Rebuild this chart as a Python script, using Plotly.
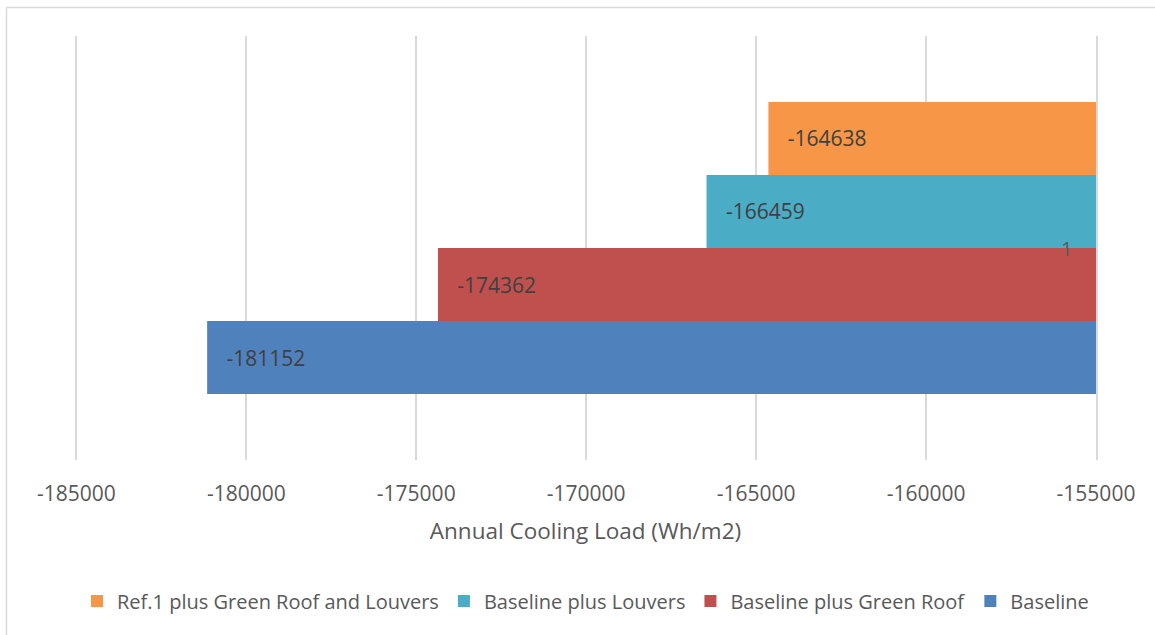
import plotly.graph_objects as go

# Annual cooling load per design option (Wh/m2)
category = ["1"]
series_names = ["Baseline", "Baseline plus Green Roof",
                "Baseline plus Louvers", "Ref.1 plus Green Roof and Louvers"]
series_values = [-181152, -174362, -166459, -164638]
series_colors = ["#4F81BD", "#C0504D", "#4BACC6", "#F79646"]

tick_values = [-185000, -180000, -175000, -170000, -165000, -160000, -155000]
tick_labels = [str(v) for v in tick_values]

FONT = "Open Sans"
NBSP = "\u00a0"
# small padding so the gridline at the left end of the axis stays visible
pad = 40

fig = go.Figure()
for name, val, col in zip(series_names, series_values, series_colors):
    fig.add_trace(go.Bar(
        y=category, x=[val], name=name, orientation="h",
        marker=dict(color=col, line=dict(width=0)),
        text=[NBSP * 3 + str(val)], textposition="inside",
        insidetextanchor="end",
        textfont=dict(family=FONT, size=21, color="#404040"),
    ))

# category label drawn just left of the right-hand category axis
n_cat = len(category)
for i, cat in enumerate(category):
    fig.add_annotation(
        x=1, xref="paper", y=(i + 0.5) / n_cat, yref="paper",
        xanchor="right", yanchor="middle",
        xshift=-22, showarrow=False, text=cat,
        font=dict(family=FONT, size=20, color="#595959"),
    )

grid = "#D9D9D9"
fig.update_layout(
    width=1155, height=635,
    margin=dict(l=75, r=59, t=36, b=175, autoexpand=False),
    paper_bgcolor="white", plot_bgcolor="white",
    barmode="group", bargap=0.311, bargroupgap=0,
    font=dict(family=FONT, color="#595959", size=21),
    xaxis=dict(
        range=[tick_values[0] - pad, tick_values[-1]],
        tickvals=tick_values, ticktext=tick_labels,
        showgrid=True, gridcolor=grid, gridwidth=1.5,
        zeroline=False, showline=False, ticks="",
        ticklabelstandoff=19,
        tickfont=dict(family=FONT, size=21, color="#595959"),
        title=dict(text="Annual Cooling Load (Wh/m2)", standoff=17,
                   font=dict(family=FONT, size=22.5, color="#595959")),
    ),
    yaxis=dict(
        type="category", side="right", range=[-0.5, n_cat - 0.5],
        showline=True, linecolor=grid, linewidth=1.5,
        ticks="inside", ticklen=7, tickcolor=grid, tickwidth=1.5,
        tickson="boundaries", showticklabels=False, showgrid=False,
    ),
    legend=dict(
        orientation="h", traceorder="reversed",
        x=0.5, xanchor="center", y=-0.3325, yanchor="middle",
        font=dict(family=FONT, size=20, color="#595959"),
    ),
    showlegend=True,
    shapes=[
        # chart frame (top and left edges)
        dict(type="line", xref="paper", yref="paper",
             x0=-0.0671, x1=1.06, y0=1.0672, y1=1.0672,
             line=dict(color=grid, width=1.5)),
        dict(type="line", xref="paper", yref="paper",
             x0=-0.0671, x1=-0.0671, y0=1.0672, y1=-0.42,
             line=dict(color=grid, width=1.5)),
    ],
)

fig.write_html("out.html")
